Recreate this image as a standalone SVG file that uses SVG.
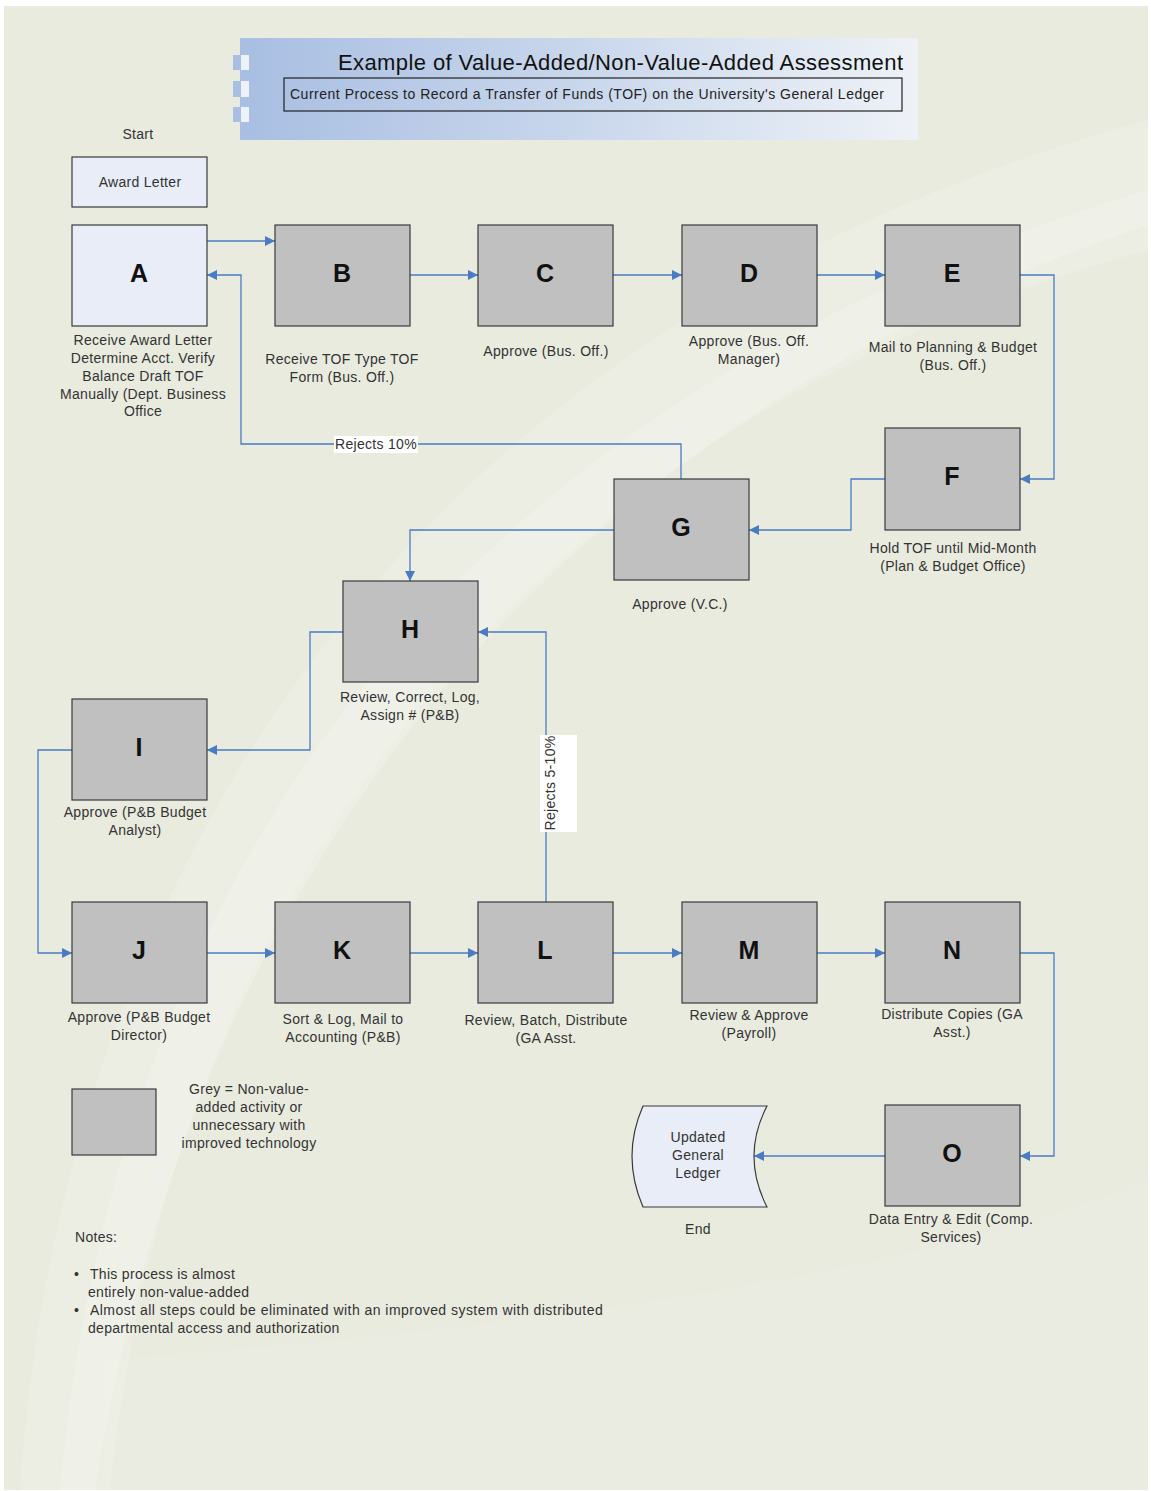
<svg xmlns="http://www.w3.org/2000/svg" width="1151" height="1491" viewBox="0 0 1151 1491">
<defs>
<linearGradient id="ban" x1="0" y1="0" x2="1" y2="0">
<stop offset="0" stop-color="#a8bee2"/>
<stop offset="0.5" stop-color="#c9d7ec"/>
<stop offset="1" stop-color="#eef2f7"/>
</linearGradient>
<marker id="ah" viewBox="0 0 10 10" refX="10" refY="5" markerWidth="10" markerHeight="10" markerUnits="userSpaceOnUse" orient="auto">
<path d="M0,0 L10,5 L0,10 Z" fill="#4a7cc3"/>
</marker>
<style>
.nv{fill:#c0c0c0;stroke:#3a3a3a;stroke-width:1.2}
.va{fill:#e8edf8;stroke:#3a3a3a;stroke-width:1.2}
.ltr{font-family:"Liberation Sans",Arial,sans-serif;font-weight:bold;font-size:25px;fill:#111;text-anchor:middle}
.lbl{font-family:"Liberation Sans",Arial,sans-serif;font-size:14px;fill:#333;text-anchor:middle;letter-spacing:0.3px}
.lft{font-family:"Liberation Sans",Arial,sans-serif;font-size:14px;fill:#333;letter-spacing:0.3px}
.cn{fill:none;stroke:#4a7cc3;stroke-width:1.3}
</style>
</defs>
<rect x="0" y="0" width="1151" height="1491" fill="#ffffff"/>
<rect x="4" y="6" width="1144" height="1484" fill="#e9ebdf"/>
<!-- background swooshes -->
<path d="M 20 1490 C 60 900, 380 330, 1148 120 L 1148 250 C 520 420, 170 900, 110 1490 Z" fill="#ffffff" opacity="0.16"/>
<path d="M 60 1490 C 110 950, 380 420, 1148 190 L 1148 225 C 480 450, 180 950, 95 1490 Z" fill="#ffffff" opacity="0.2"/>
<path d="M 105 1360 C 500 1330, 900 1280, 1148 1180 L 1148 1490 L 105 1490 Z" fill="#ffffff" opacity="0.07"/>
<!-- title banner -->
<g id="title">
<rect x="240" y="38" width="678" height="102" fill="url(#ban)"/>
<rect x="233" y="55" width="8" height="15" fill="#a8bee2"/>
<rect x="233" y="81" width="8" height="16" fill="#a8bee2"/>
<rect x="233" y="107" width="8" height="15" fill="#a8bee2"/>
<rect x="241" y="55" width="8" height="15" fill="#eef1f5"/>
<rect x="241" y="81" width="8" height="16" fill="#eef1f5"/>
<rect x="241" y="107" width="8" height="15" fill="#eef1f5"/>
<text x="338" y="70" font-family="'Liberation Sans',Arial,sans-serif" font-size="22" fill="#111" textLength="565" lengthAdjust="spacing">Example of Value-Added/Non-Value-Added Assessment</text>
<rect x="284" y="78" width="618" height="33" fill="none" stroke="#222" stroke-width="1.2"/>
<text x="290" y="99" font-family="'Liberation Sans',Arial,sans-serif" font-size="14" fill="#222" textLength="594" lengthAdjust="spacing">Current Process to Record a Transfer of Funds (TOF) on the University's General Ledger</text>
</g>
<!-- connectors -->
<g id="connectors">
<path class="cn" d="M207,241 L275,241" marker-end="url(#ah)"/>
<path class="cn" d="M681,479 L681,444 L241,444 L241,275 L207,275" marker-end="url(#ah)"/>
<path class="cn" d="M410,275 L478,275" marker-end="url(#ah)"/>
<path class="cn" d="M613,275 L682,275" marker-end="url(#ah)"/>
<path class="cn" d="M817,275 L885,275" marker-end="url(#ah)"/>
<path class="cn" d="M1020,275 L1054,275 L1054,479 L1020,479" marker-end="url(#ah)"/>
<path class="cn" d="M885,479 L851,479 L851,530 L749,530" marker-end="url(#ah)"/>
<path class="cn" d="M614,530 L410,530 L410,581" marker-end="url(#ah)"/>
<path class="cn" d="M343,632 L310,632 L310,750 L207,750" marker-end="url(#ah)"/>
<path class="cn" d="M72,750 L38,750 L38,953 L72,953" marker-end="url(#ah)"/>
<path class="cn" d="M207,953 L275,953" marker-end="url(#ah)"/>
<path class="cn" d="M410,953 L478,953" marker-end="url(#ah)"/>
<path class="cn" d="M613,953 L682,953" marker-end="url(#ah)"/>
<path class="cn" d="M817,953 L885,953" marker-end="url(#ah)"/>
<path class="cn" d="M546,902 L546,632 L478,632" marker-end="url(#ah)"/>
<path class="cn" d="M1020,953 L1054,953 L1054,1156 L1020,1156" marker-end="url(#ah)"/>
<path class="cn" d="M885,1156 L754,1156" marker-end="url(#ah)"/>
<rect x="334" y="436" width="84" height="17" fill="#ffffff"/>
<text x="335" y="449" class="lft">Rejects 10%</text>
<rect x="540" y="735" width="37" height="97" fill="#ffffff"/>
<text transform="translate(555,783) rotate(-90)" class="lbl">Rejects 5-10%</text>
</g>
<!-- nodes -->
<g id="start"><text x="138" y="139" class="lbl">Start</text></g>
<g id="award"><rect x="72" y="157" width="135" height="50" class="va"/><text x="140" y="187" class="lbl">Award Letter</text></g>
<g id="A"><rect x="72" y="225" width="135" height="101" class="va"/><text x="139" y="282" class="ltr">A</text>
<text class="lbl" x="143"><tspan x="143" y="345">Receive Award Letter</tspan><tspan x="143" y="363">Determine Acct. Verify</tspan><tspan x="143" y="381">Balance Draft TOF</tspan><tspan x="143" y="399">Manually (Dept. Business</tspan><tspan x="143" y="416">Office</tspan></text></g>
<g id="B"><rect x="275" y="225" width="135" height="101" class="nv"/><text x="342" y="282" class="ltr">B</text>
<text class="lbl"><tspan x="342" y="364">Receive TOF Type TOF</tspan><tspan x="342" y="382">Form (Bus. Off.)</tspan></text></g>
<g id="C"><rect x="478" y="225" width="135" height="101" class="nv"/><text x="545" y="282" class="ltr">C</text>
<text class="lbl"><tspan x="546" y="356">Approve (Bus. Off.)</tspan></text></g>
<g id="D"><rect x="682" y="225" width="135" height="101" class="nv"/><text x="749" y="282" class="ltr">D</text>
<text class="lbl"><tspan x="749" y="346">Approve (Bus. Off.</tspan><tspan x="749" y="364">Manager)</tspan></text></g>
<g id="E"><rect x="885" y="225" width="135" height="101" class="nv"/><text x="952" y="282" class="ltr">E</text>
<text class="lbl"><tspan x="953" y="352">Mail to Planning &amp; Budget</tspan><tspan x="953" y="370">(Bus. Off.)</tspan></text></g>
<g id="F"><rect x="885" y="428" width="135" height="102" class="nv"/><text x="952" y="485" class="ltr">F</text>
<text class="lbl"><tspan x="953" y="553">Hold TOF until Mid-Month</tspan><tspan x="953" y="571">(Plan &amp; Budget Office)</tspan></text></g>
<g id="G"><rect x="614" y="479" width="135" height="101" class="nv"/><text x="681" y="536" class="ltr">G</text>
<text class="lbl"><tspan x="680" y="609">Approve (V.C.)</tspan></text></g>
<g id="H"><rect x="343" y="581" width="135" height="101" class="nv"/><text x="410" y="638" class="ltr">H</text>
<text class="lbl"><tspan x="410" y="702">Review, Correct, Log,</tspan><tspan x="410" y="720">Assign # (P&amp;B)</tspan></text></g>
<g id="I"><rect x="72" y="699" width="135" height="101" class="nv"/><text x="139" y="756" class="ltr">I</text>
<text class="lbl"><tspan x="135" y="817">Approve (P&amp;B Budget</tspan><tspan x="135" y="835">Analyst)</tspan></text></g>
<g id="J"><rect x="72" y="902" width="135" height="101" class="nv"/><text x="139" y="959" class="ltr">J</text>
<text class="lbl"><tspan x="139" y="1022">Approve (P&amp;B Budget</tspan><tspan x="139" y="1040">Director)</tspan></text></g>
<g id="K"><rect x="275" y="902" width="135" height="101" class="nv"/><text x="342" y="959" class="ltr">K</text>
<text class="lbl"><tspan x="343" y="1024">Sort &amp; Log, Mail to</tspan><tspan x="343" y="1042">Accounting (P&amp;B)</tspan></text></g>
<g id="L"><rect x="478" y="902" width="135" height="101" class="nv"/><text x="545" y="959" class="ltr">L</text>
<text class="lbl"><tspan x="546" y="1025">Review, Batch, Distribute</tspan><tspan x="546" y="1043">(GA Asst.</tspan></text></g>
<g id="M"><rect x="682" y="902" width="135" height="101" class="nv"/><text x="749" y="959" class="ltr">M</text>
<text class="lbl"><tspan x="749" y="1020">Review &amp; Approve</tspan><tspan x="749" y="1038">(Payroll)</tspan></text></g>
<g id="N"><rect x="885" y="902" width="135" height="101" class="nv"/><text x="952" y="959" class="ltr">N</text>
<text class="lbl"><tspan x="952" y="1019">Distribute Copies (GA</tspan><tspan x="952" y="1037">Asst.)</tspan></text></g>
<g id="O"><rect x="885" y="1105" width="135" height="101" class="nv"/><text x="952" y="1162" class="ltr">O</text>
<text class="lbl"><tspan x="951" y="1224">Data Entry &amp; Edit (Comp.</tspan><tspan x="951" y="1242">Services)</tspan></text></g>
<g id="ledger"><path d="M 643 1106 L 767 1106 Q 741 1156 767 1207 L 643 1207 Q 621 1156 643 1106 Z" class="va"/>
<text class="lbl"><tspan x="698" y="1142">Updated</tspan><tspan x="698" y="1160">General</tspan><tspan x="698" y="1178">Ledger</tspan></text>
<text x="698" y="1234" class="lbl">End</text></g>
<g id="legend"><rect x="72" y="1089" width="84" height="66" class="nv"/>
<text class="lbl"><tspan x="249" y="1094">Grey = Non-value-</tspan><tspan x="249" y="1112">added activity or</tspan><tspan x="249" y="1130">unnecessary with</tspan><tspan x="249" y="1148">improved technology</tspan></text></g>
<g id="notes">
<text x="75" y="1242" class="lft">Notes:</text>
<text x="74" y="1279" class="lft">•</text>
<text x="90" y="1279" class="lft">This process is almost</text>
<text x="88" y="1297" class="lft">entirely non-value-added</text>
<text x="74" y="1315" class="lft">•</text>
<text x="90" y="1315" class="lft" textLength="513" lengthAdjust="spacing">Almost all steps could be eliminated with an improved system with distributed</text>
<text x="88" y="1333" class="lft">departmental access and authorization</text>
</g>
</svg>
